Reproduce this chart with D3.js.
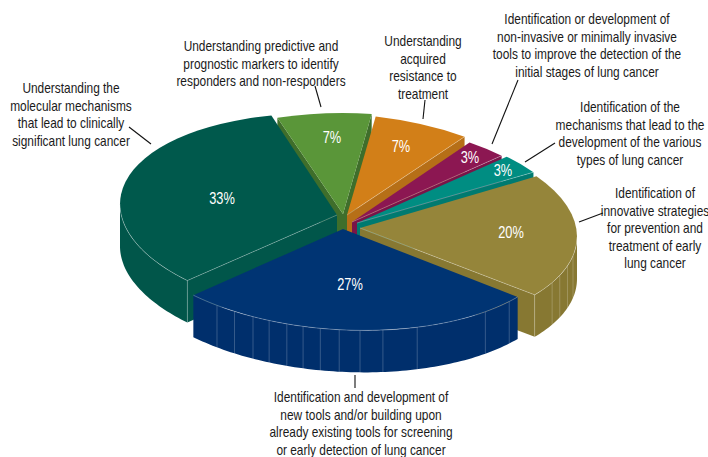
<!DOCTYPE html>
<html lang="en">
<head>
<meta charset="utf-8">
<title>Lung cancer research priorities</title>
<script src="https://cdn.jsdelivr.net/npm/d3@7"></script>
<style>
  body { margin: 0; background: #fff; }
  text { font-family: "Liberation Sans", sans-serif; }
</style>
</head>
<body>
<div id="chart"></div>
<script>
// clockwise from the top of the pie
var shares = [7, 7, 3, 3, 20, 27, 33]
var shareLabels = ["7%", "7%", "3%", "3%", "20%", "27%", "33%"]
var topColors = ["#5a9639", "#d27f18", "#8c1752", "#008d82", "#95853a", "#003473", "#00594c"]
var sideColors = ["#3f6e2b", "#b66f17", "#7a1448", "#007a70", "#877832", "#002f6c", "#01564a"]
var descriptions = [
  ["Understanding predictive and", "prognostic markers to identify", "responders and non-responders"],
  ["Understanding", "acquired", "resistance to", "treatment"],
  ["Identification or development of", "non-invasive or minimally invasive", "tools to improve the detection of the", "initial stages of lung cancer"],
  ["Identification of the", "mechanisms that lead to the", "development of the various", "types of lung cancer"],
  ["Identification of", "innovative strategies", "for prevention and", "treatment of early", "lung cancer"],
  ["Identification and development of", "new tools and/or building upon", "already existing tools for screening", "or early detection of lung cancer"],
  ["Understanding the", "molecular mechanisms", "that lead to clinically", "significant lung cancer"]
]

// layout, one entry per slice
var apex = [[343, 214], [347, 215], [352, 222], [357, 223], [360, 228], [343, 229], [337, 215]]
var tilt = [0, 0.055, 0.045, 0.045, 0.04, 0.046, 0.05]
var drawOrder = [0, 1, 2, 3, 6, 4, 5]
var shareLabelPos = [[332, 143], [401, 152], [470, 163], [503, 176], [511, 238], [350, 290], [222, 204]]
var textPos = [[261, 51], [423, 46], [587, 24], [630, 112], [655, 198], [361, 402], [71, 93]]
var leaders = [
  [[315, 86], [321, 107]],
  [[425, 100], [423, 119]],
  [[518, 80], [492, 144]],
  [[555, 143], [525, 162]],
  [[603, 213], [579, 222]],
  [[355, 375], [355, 388]],
  [[129, 127], [151, 144]]
]
// wall seams, in degrees round the pie
var ridges = [
  [], [], [], [],
  [101, 107, 113, 117.7, 126.4],
  [130, 139, 160, 169.4, 175.5, 181, 186, 190.6, 195, 199.9, 204.5, 210, 215.5],
  [223.6]
]

var width = 708, height = 457
var radius = 217, squash = 0.465, depth = 42, lineHeight = 17.6
var narrow = 0.85, shareNarrow = 0.8

var svg = d3.select("#chart").append("svg").attr("width", width).attr("height", height)

var rad = Math.PI / 180
var pie = d3.pie().sort(null).startAngle(-17.6 * rad).endAngle(342.4 * rad)
var slices = pie(shares)
var arc = d3.arc().innerRadius(0).outerRadius(radius)
var line = d3.line()

function rim(i, a, drop) {
  var dx = radius * Math.sin(a)
  return [apex[i][0] + dx, apex[i][1] - radius * squash * Math.cos(a) + tilt[i] * dx + drop]
}

// normal of a cut face points at the viewer when it has a downward component
function drawFace(g, i, a, normal) {
  if (Math.cos(normal) >= 0) return
  var pts = [[apex[i][0], apex[i][1]], rim(i, a, 0), rim(i, a, depth), [apex[i][0], apex[i][1] + depth]]
  g.append("path").attr("d", line(pts) + "Z").attr("fill", sideColors[i])
}

function seam(g, pts, opacity) {
  g.append("path").attr("d", line(pts)).attr("fill", "none")
    .attr("stroke", "#fff").attr("stroke-opacity", opacity).attr("stroke-width", 0.7)
}

drawOrder.forEach(function(i) {
  var d = slices[i]
  var g = svg.append("g")

  drawFace(g, i, d.startAngle, d.startAngle - Math.PI / 2)
  drawFace(g, i, d.endAngle, d.endAngle + Math.PI / 2)

  // outer wall, front half only
  var from = Math.max(d.startAngle, Math.PI / 2)
  var to = Math.min(d.endAngle, 3 * Math.PI / 2)
  if (to > from) {
    var steps = d3.range(from, to, 0.02).concat([to])
    var upper = steps.map(function(a) { return rim(i, a, 0) })
    var lower = steps.map(function(a) { return rim(i, a, depth) }).reverse()
    g.append("path").attr("d", line(upper.concat(lower)) + "Z").attr("fill", sideColors[i])
  }

  ridges[i].forEach(function(deg) {
    seam(g, [rim(i, deg * rad, 0), rim(i, deg * rad, depth)], 0.3)
  })

  g.append("path")
    .attr("d", arc(d))
    .attr("transform", "translate(" + apex[i][0] + "," + apex[i][1] + ") matrix(1," + tilt[i] + ",0," + squash + ",0,0)")
    .attr("fill", topColors[i])

  if (to > from) seam(g, upper, 0.4)

  // pale seam along the cut edge facing the viewer
  if (i == 6) seam(g, [apex[i], rim(i, d.startAngle, 0)], 0.4)
  else if (i != 0 && i != 5) seam(g, [apex[i], rim(i, d.endAngle, 0)], 0.4)
})

// share labels
svg.selectAll("text.share")
  .data(shareLabels)
  .enter()
  .append("text")
  .attr("class", "share")
  .attr("transform", function(d, i) { return "translate(" + shareLabelPos[i] + ") scale(" + shareNarrow + ",1)" })
  .attr("text-anchor", "middle")
  .attr("font-size", 16)
  .attr("fill", "#fff")
  .text(function(d) { return d })

// leader lines
svg.selectAll("path.leader")
  .data(leaders)
  .enter()
  .append("path")
  .attr("class", "leader")
  .attr("d", function(d) { return line(d) })
  .attr("stroke", "#111")
  .attr("stroke-width", 1.1)

// descriptions
descriptions.forEach(function(lines, i) {
  lines.forEach(function(t, j) {
    svg.append("text")
      .attr("transform", "translate(" + textPos[i][0] + "," + (textPos[i][1] + j * lineHeight) + ") scale(" + narrow + ",1)")
      .attr("text-anchor", "middle")
      .attr("font-size", 14)
      .attr("fill", "#1a1a1a")
      .text(t)
  })
})
</script>
</body>
</html>
